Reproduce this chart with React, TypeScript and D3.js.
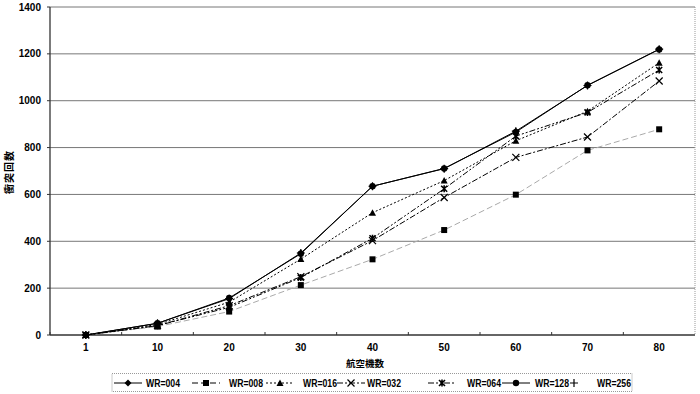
import React from 'react'
import * as d3 from 'd3'

const categories = ['1', '10', '20', '30', '40', '50', '60', '70', '80']
const yTicks = [0, 200, 400, 600, 800, 1000, 1200, 1400]

const wr004 = [0, 50, 155, 350, 635, 710, 870, 1065, 1220]
const wr008 = [0, 36, 100, 213, 323, 448, 599, 788, 878]
const wr016 = [0, 45, 140, 324, 522, 659, 829, 955, 1162]
const wr032 = [0, 40, 125, 249, 403, 587, 758, 845, 1084]
const wr064 = [0, 40, 118, 245, 413, 624, 849, 950, 1131]
const wr128 = [0, 50, 158, 347, 635, 711, 866, 1066, 1219]
const wr256 = [0, 50, 155, 350, 635, 710, 870, 1065, 1220]

const series = [
  { name: 'WR=004', values: wr004, dash: '', marker: 'diamond', color: '#000' },
  { name: 'WR=008', values: wr008, dash: '6,3', marker: 'square', color: '#aaa' },
  { name: 'WR=016', values: wr016, dash: '2,2', marker: 'triangle', color: '#000' },
  { name: 'WR=032', values: wr032, dash: '6,2,2,2', marker: 'x', color: '#000' },
  { name: 'WR=064', values: wr064, dash: '6,2,2,2,2,2', marker: 'star', color: '#000' },
  { name: 'WR=128', values: wr128, dash: '', marker: 'circle', color: '#000' },
  { name: 'WR=256', values: wr256, dash: 'none', marker: 'plus', color: '#000' },
]

// legend sample start / text start
const legendSample = [114, 192, 266, 337, 428, 502, 568]
const legendText = [146, 229, 303, 367, 467, 535, 597]

const Marker = ({ type, x, y }: { type: string; x: number; y: number }) => {
  switch (type) {
    case 'diamond':
      return <path d={`M${x},${y - 3.5}L${x + 3.5},${y}L${x},${y + 3.5}L${x - 3.5},${y}Z`} fill="#000" />
    case 'square':
      return <rect x={x - 3} y={y - 3} width={6} height={6} fill="#000" />
    case 'triangle':
      return <path d={`M${x},${y - 3.5}L${x + 3.5},${y + 3}L${x - 3.5},${y + 3}Z`} fill="#000" />
    case 'x':
      return <path d={`M${x - 3.5},${y - 3.5}L${x + 3.5},${y + 3.5}M${x + 3.5},${y - 3.5}L${x - 3.5},${y + 3.5}`} stroke="#000" strokeWidth={1.2} />
    case 'star':
      return (
        <path
          d={`M${x - 3},${y - 3}L${x + 3},${y + 3}M${x + 3},${y - 3}L${x - 3},${y + 3}M${x},${y - 3.5}L${x},${y + 3.5}`}
          stroke="#000"
          strokeWidth={1.6}
        />
      )
    case 'circle':
      return <circle cx={x} cy={y} r={3.2} fill="#000" />
    case 'plus':
      return <path d={`M${x - 4},${y}L${x + 4},${y}M${x},${y - 4}L${x},${y + 4}`} stroke="#000" strokeWidth={1.2} />
    default:
      return null
  }
}

const App = () => {
  const left = 50
  const right = 695
  const top = 7
  const bottom = 335

  const x = d3.scaleBand().domain(categories).range([left, right]).padding(0)
  const y = d3.scaleLinear().domain([0, 1400]).range([bottom, top])
  const cx = (c: string) => (x(c) as number) + x.bandwidth() / 2

  const line = d3
    .line<number>()
    .x((d, i) => cx(categories[i]))
    .y((d) => y(d))

  const font = '"Liberation Sans", Arial, sans-serif'
  const cjk = '"Noto Sans CJK JP", sans-serif'

  return (
    <svg width={700} height={394} style={{ position: 'absolute', left: 0, top: 0, background: '#fff' }}>
      <rect width={700} height={394} fill="#fff" />
      {/* gridlines */}
      {yTicks.slice(1).map((t) => (
        <line key={`g${t}`} x1={left} x2={right} y1={y(t)} y2={y(t)} stroke="#777" strokeWidth={1} />
      ))}
      {/* frame */}
      <line x1={right} x2={right} y1={top} y2={bottom} stroke="#999" strokeDasharray="1,1" />
      <line x1={left} x2={left} y1={top} y2={bottom} stroke="#333" strokeWidth={1.3} />
      <line x1={left} x2={right} y1={bottom} y2={bottom} stroke="#333" strokeWidth={1.3} />
      {/* y ticks */}
      {yTicks.map((t) => (
        <g key={`y${t}`}>
          <line x1={left - 3} x2={left} y1={y(t)} y2={y(t)} stroke="#333" />
          <text x={41} y={y(t) + 3.5} textAnchor="end" fontFamily={font} fontSize={10} fontWeight="bold">
            {t}
          </text>
        </g>
      ))}
      {/* x ticks */}
      {categories.map((c) => (
        <g key={`x${c}`}>
          <line x1={x(c)} x2={x(c)} y1={bottom} y2={bottom - 3} stroke="#333" />
          <text x={cx(c)} y={351} textAnchor="middle" fontFamily={font} fontSize={10} fontWeight="bold">
            {c}
          </text>
        </g>
      ))}
      {/* axis titles */}
      <text x={365} y={367} textAnchor="middle" fontFamily={cjk} fontSize={9.5} fontWeight="bold">
        航空機数
      </text>
      <text
        transform="translate(13,172) rotate(-90)"
        textAnchor="middle"
        fontFamily={cjk}
        fontSize={10}
        fontWeight="bold"
        letterSpacing={1}
      >
        衝突回数
      </text>
      {/* series */}
      {series.map((s) => (
        <g key={s.name}>
          {s.dash !== 'none' && (
            <path
              d={line(s.values) as string}
              fill="none"
              stroke={s.color}
              strokeWidth={1}
              strokeDasharray={s.dash || undefined}
            />
          )}
          {s.values.map((v, i) => (
            <Marker key={i} type={s.marker} x={cx(categories[i])} y={y(v)} />
          ))}
        </g>
      ))}
      {/* legend */}
      <rect x={112} y={373.5} width={520} height={18} fill="#fff" stroke="#999" strokeDasharray="1,1" />
      {series.map((s, i) => {
        const lx = legendSample[i]
        const ly = 383
        const w = s.dash === 'none' ? 12 : 28
        return (
          <g key={`l${s.name}`}>
            {s.dash !== 'none' && (
              <line x1={lx} x2={lx + w} y1={ly} y2={ly} stroke="#000" strokeDasharray={s.dash || undefined} />
            )}
            <Marker type={s.marker} x={lx + w / 2} y={ly} />
            <text
              x={legendText[i]}
              y={ly + 4}
              fontFamily={font}
              fontSize={11}
              fontWeight="bold"
              textLength={34}
              lengthAdjust="spacingAndGlyphs"
            >
              {s.name}
            </text>
          </g>
        )
      })}
    </svg>
  )
}

export default App
